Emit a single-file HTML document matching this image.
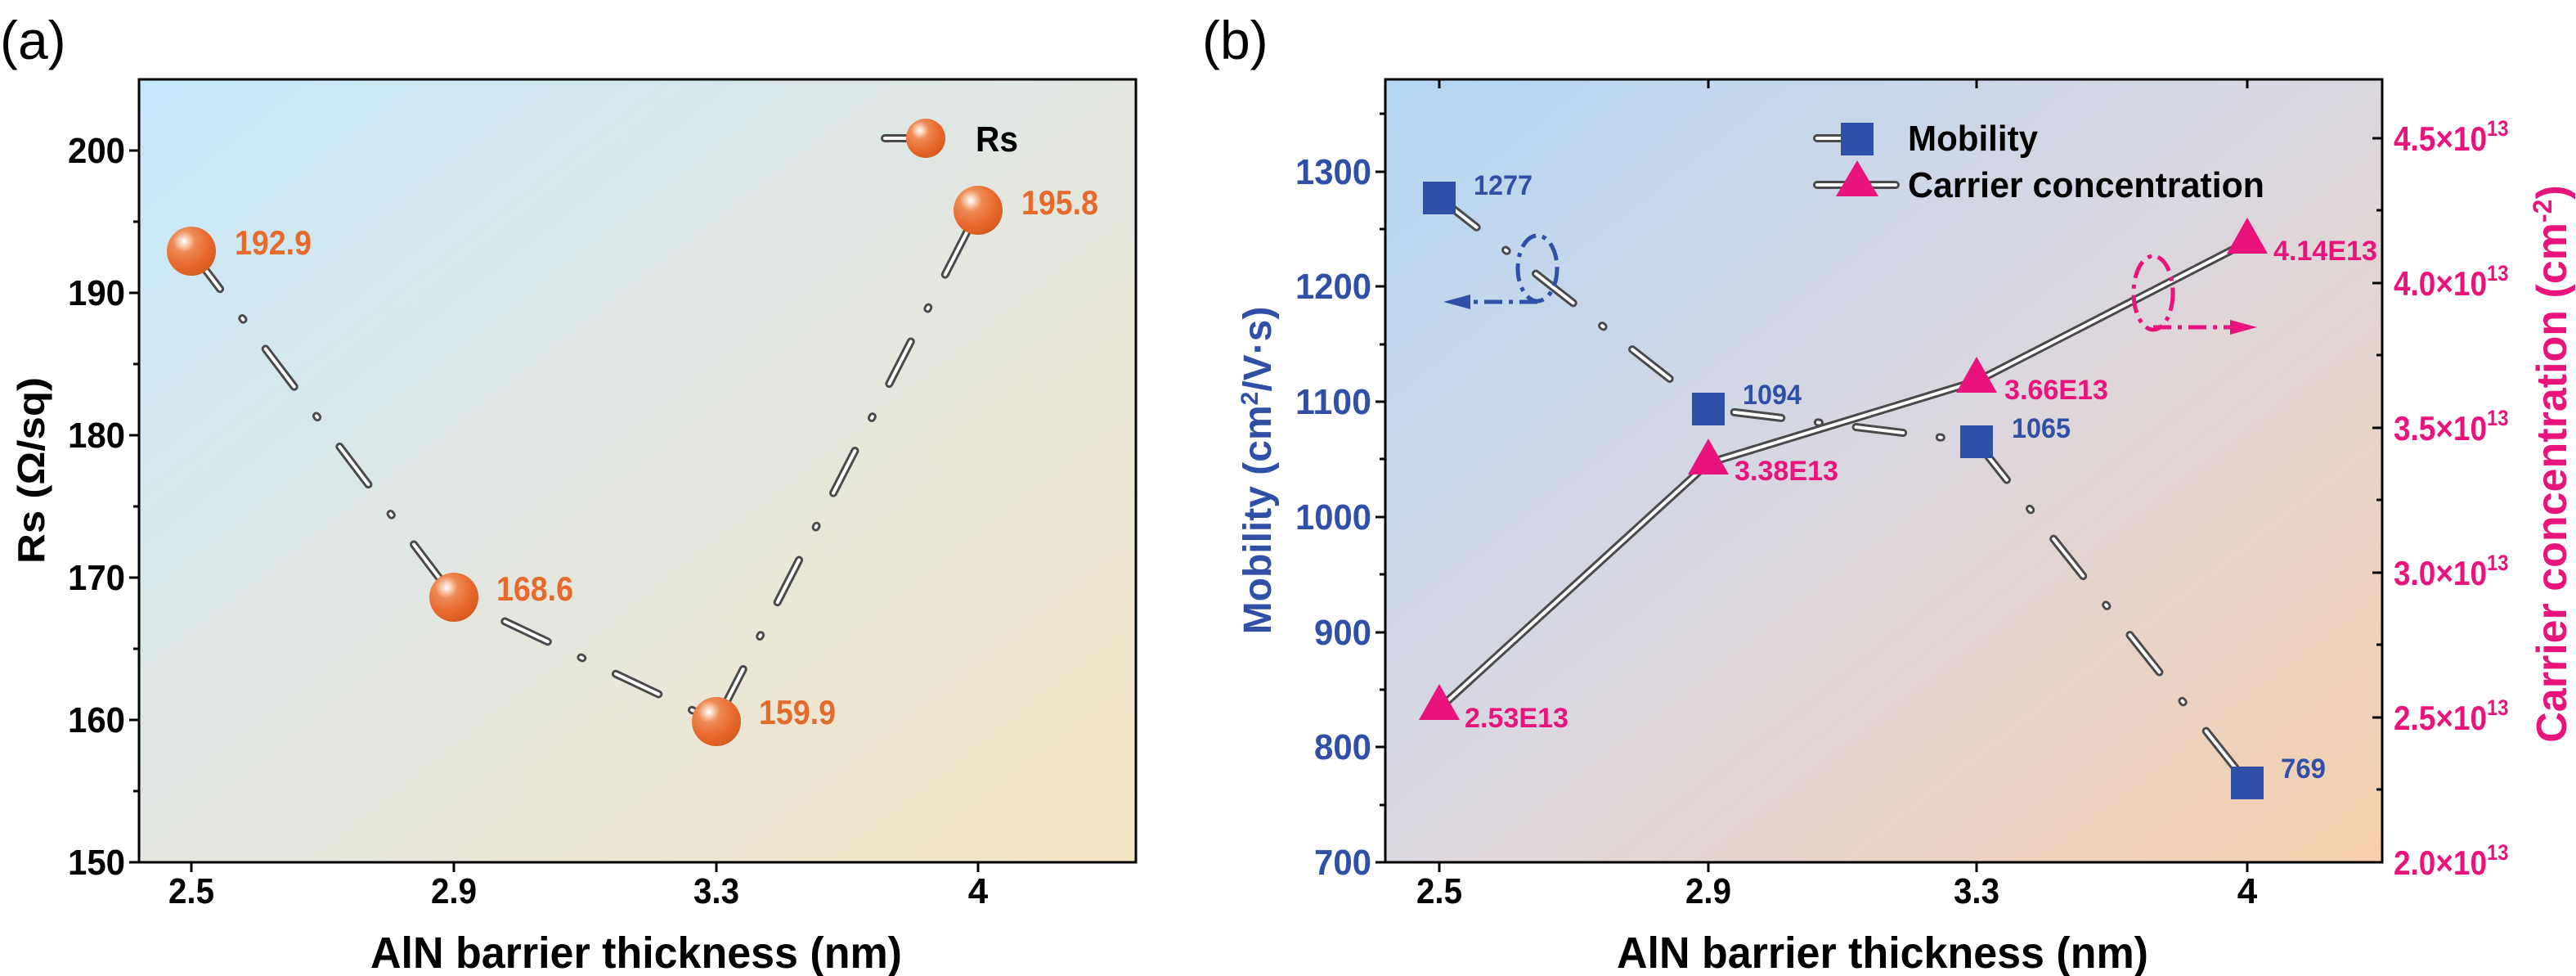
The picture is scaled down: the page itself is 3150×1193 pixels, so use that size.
<!DOCTYPE html>
<html><head><meta charset="utf-8"><style>
html,body{margin:0;padding:0;background:#fff;}
svg{display:block;}
.t{font-family:"Liberation Sans Narrow","Liberation Sans",sans-serif;font-weight:bold;}
.w{font-family:"Liberation Sans",sans-serif;font-weight:bold;}
</style></head><body>
<svg width="3150" height="1193" viewBox="0 0 3150 1193" xmlns="http://www.w3.org/2000/svg">
<defs>
<linearGradient id="ga" x1="0" y1="0" x2="1" y2="1">
<stop offset="0" stop-color="#c4e8fb"/><stop offset="0.5" stop-color="#e3e7e0"/><stop offset="1" stop-color="#f5e6c4"/>
</linearGradient>
<linearGradient id="gb" x1="0" y1="0" x2="1" y2="1">
<stop offset="0" stop-color="#b3d7f4"/><stop offset="0.5" stop-color="#dbd7df"/><stop offset="1" stop-color="#f6cfac"/>
</linearGradient>
<radialGradient id="sp" cx="0.35" cy="0.3" r="0.75">
<stop offset="0" stop-color="#ffffff"/><stop offset="0.12" stop-color="#fbd2b8"/><stop offset="0.3" stop-color="#ee8a55"/><stop offset="0.7" stop-color="#e6672b"/><stop offset="1" stop-color="#d65a20"/>
</radialGradient>
</defs>

<!-- Panel a -->
<text x="0" y="72" font-family="Liberation Sans, sans-serif" font-size="66">(a)</text>
<rect x="170" y="97" width="1219" height="957" fill="url(#ga)" stroke="#000" stroke-width="3"/>
<g stroke="#000" stroke-width="3">
<line x1="158" y1="1054" x2="170" y2="1054"/><line x1="158" y1="880" x2="170" y2="880"/><line x1="158" y1="706" x2="170" y2="706"/><line x1="158" y1="532" x2="170" y2="532"/><line x1="158" y1="358" x2="170" y2="358"/><line x1="158" y1="184" x2="170" y2="184"/>
<line x1="163" y1="967" x2="170" y2="967"/><line x1="163" y1="793" x2="170" y2="793"/><line x1="163" y1="619" x2="170" y2="619"/><line x1="163" y1="445" x2="170" y2="445"/><line x1="163" y1="271" x2="170" y2="271"/>
<line x1="234" y1="1054" x2="234" y2="1066"/><line x1="555" y1="1054" x2="555" y2="1066"/><line x1="876" y1="1054" x2="876" y2="1066"/><line x1="1196" y1="1054" x2="1196" y2="1066"/>
</g>
<g class="t" font-size="44" text-anchor="end">
<text x="153" y="1069" textLength="70" lengthAdjust="spacingAndGlyphs">150</text><text x="153" y="895" textLength="70" lengthAdjust="spacingAndGlyphs">160</text><text x="153" y="721" textLength="70" lengthAdjust="spacingAndGlyphs">170</text><text x="153" y="547" textLength="70" lengthAdjust="spacingAndGlyphs">180</text><text x="153" y="373" textLength="70" lengthAdjust="spacingAndGlyphs">190</text><text x="153" y="199" textLength="70" lengthAdjust="spacingAndGlyphs">200</text>
</g>
<g class="t" font-size="44" text-anchor="middle">
<text x="234" y="1104" textLength="56" lengthAdjust="spacingAndGlyphs">2.5</text><text x="555" y="1104" textLength="56" lengthAdjust="spacingAndGlyphs">2.9</text><text x="876" y="1104" textLength="56" lengthAdjust="spacingAndGlyphs">3.3</text><text x="1196" y="1104">4</text>
</g>
<text class="t" font-size="54" x="778" y="1183" text-anchor="middle" textLength="650" lengthAdjust="spacingAndGlyphs">AlN barrier thickness (nm)</text>
<text class="w" font-size="46" transform="translate(54,575) rotate(-90)" text-anchor="middle" textLength="228" lengthAdjust="spacingAndGlyphs">Rs (Ω/sq)</text>
<g fill="none" stroke-linecap="round" stroke-dasharray="58 45 2 45">
<polyline points="234,307 555,730 876,882 1196,257" stroke="#4a4a4a" stroke-width="10"/>
<polyline points="234,307 555,730 876,882 1196,257" stroke="#fff" stroke-width="4"/>
</g>
<g>
<circle cx="234" cy="307" r="30" fill="url(#sp)"/><circle cx="555" cy="730" r="30" fill="url(#sp)"/><circle cx="876" cy="882" r="30" fill="url(#sp)"/><circle cx="1196" cy="257" r="30" fill="url(#sp)"/>
<line x1="1082" y1="169" x2="1115" y2="169" stroke="#4a4a4a" stroke-width="10" stroke-linecap="round"/>
<line x1="1082" y1="169" x2="1115" y2="169" stroke="#fff" stroke-width="4" stroke-linecap="round"/>
<circle cx="1132" cy="169" r="24" fill="url(#sp)"/>
</g>
<text class="t" font-size="44" x="1193" y="185" textLength="52" lengthAdjust="spacingAndGlyphs">Rs</text>
<g class="t" font-size="42" fill="#e66a2c">
<text x="287" y="311" textLength="94" lengthAdjust="spacingAndGlyphs">192.9</text><text x="607" y="734" textLength="94" lengthAdjust="spacingAndGlyphs">168.6</text><text x="928" y="885" textLength="94" lengthAdjust="spacingAndGlyphs">159.9</text><text x="1249" y="262" textLength="94" lengthAdjust="spacingAndGlyphs">195.8</text>
</g>

<!-- Panel b -->
<text x="1470" y="72" font-family="Liberation Sans, sans-serif" font-size="66">(b)</text>
<rect x="1694" y="97" width="1219" height="957" fill="url(#gb)" stroke="#000" stroke-width="3"/>
<g stroke="#000" stroke-width="3">
<line x1="1682" y1="1054" x2="1694" y2="1054"/><line x1="1682" y1="913" x2="1694" y2="913"/><line x1="1682" y1="773" x2="1694" y2="773"/><line x1="1682" y1="632" x2="1694" y2="632"/><line x1="1682" y1="491" x2="1694" y2="491"/><line x1="1682" y1="350" x2="1694" y2="350"/><line x1="1682" y1="210" x2="1694" y2="210"/>
<line x1="1687" y1="984" x2="1694" y2="984"/><line x1="1687" y1="843" x2="1694" y2="843"/><line x1="1687" y1="702" x2="1694" y2="702"/><line x1="1687" y1="561" x2="1694" y2="561"/><line x1="1687" y1="421" x2="1694" y2="421"/><line x1="1687" y1="280" x2="1694" y2="280"/><line x1="1687" y1="139" x2="1694" y2="139"/>
<line x1="2901" y1="1054" x2="2913" y2="1054"/><line x1="2901" y1="877" x2="2913" y2="877"/><line x1="2901" y1="700" x2="2913" y2="700"/><line x1="2901" y1="523" x2="2913" y2="523"/><line x1="2901" y1="346" x2="2913" y2="346"/><line x1="2901" y1="169" x2="2913" y2="169"/>
<line x1="2906" y1="965" x2="2913" y2="965"/><line x1="2906" y1="788" x2="2913" y2="788"/><line x1="2906" y1="611" x2="2913" y2="611"/><line x1="2906" y1="434" x2="2913" y2="434"/><line x1="2906" y1="257" x2="2913" y2="257"/>
<line x1="1760" y1="1054" x2="1760" y2="1066"/><line x1="2089" y1="1054" x2="2089" y2="1066"/><line x1="2417" y1="1054" x2="2417" y2="1066"/><line x1="2748" y1="1054" x2="2748" y2="1066"/>
<line x1="1760" y1="97" x2="1760" y2="108"/><line x1="2089" y1="97" x2="2089" y2="108"/><line x1="2417" y1="97" x2="2417" y2="108"/><line x1="2748" y1="97" x2="2748" y2="108"/>
</g>
<g class="t" font-size="44" text-anchor="end" fill="#3050a8">
<text x="1677" y="1069" textLength="70" lengthAdjust="spacingAndGlyphs">700</text><text x="1677" y="928" textLength="70" lengthAdjust="spacingAndGlyphs">800</text><text x="1677" y="788" textLength="70" lengthAdjust="spacingAndGlyphs">900</text><text x="1677" y="647" textLength="93" lengthAdjust="spacingAndGlyphs">1000</text><text x="1677" y="506" textLength="93" lengthAdjust="spacingAndGlyphs">1100</text><text x="1677" y="365" textLength="93" lengthAdjust="spacingAndGlyphs">1200</text><text x="1677" y="225" textLength="93" lengthAdjust="spacingAndGlyphs">1300</text>
</g>
<g class="t" font-size="42" fill="#e8147c" transform="translate(2927,0) scale(0.88,1) translate(-2927,0)">
<text x="2927" y="1069">2.0×10<tspan font-size="27" dy="-18">13</tspan></text>
<text x="2927" y="892">2.5×10<tspan font-size="27" dy="-18">13</tspan></text>
<text x="2927" y="715">3.0×10<tspan font-size="27" dy="-18">13</tspan></text>
<text x="2927" y="538">3.5×10<tspan font-size="27" dy="-18">13</tspan></text>
<text x="2927" y="361">4.0×10<tspan font-size="27" dy="-18">13</tspan></text>
<text x="2927" y="184">4.5×10<tspan font-size="27" dy="-18">13</tspan></text>
</g>
<g class="t" font-size="44" text-anchor="middle">
<text x="1760" y="1104" textLength="56" lengthAdjust="spacingAndGlyphs">2.5</text><text x="2089" y="1104" textLength="56" lengthAdjust="spacingAndGlyphs">2.9</text><text x="2417" y="1104" textLength="56" lengthAdjust="spacingAndGlyphs">3.3</text><text x="2748" y="1104">4</text>
</g>
<text class="t" font-size="54" x="2302" y="1183" text-anchor="middle" textLength="650" lengthAdjust="spacingAndGlyphs">AlN barrier thickness (nm)</text>
<text class="w" font-size="48" fill="#3050a8" transform="translate(1554,575) rotate(-90)" text-anchor="middle">Mobility (cm<tspan font-size="30" dy="-16">2</tspan><tspan dy="16">/V·s)</tspan></text>
<text class="w" font-size="52" fill="#e8147c" transform="translate(3138,567) rotate(-90)" text-anchor="middle">Carrier concentration (cm<tspan font-size="32" dy="-18">-2</tspan><tspan dy="18">)</tspan></text>

<g fill="none" stroke-linecap="round">
<polyline points="1760,866 2089,566 2417,466 2748,296" stroke="#4a4a4a" stroke-width="10"/>
<polyline points="1760,866 2089,566 2417,466 2748,296" stroke="#fff" stroke-width="4"/>
</g>
<g fill="none" stroke-linecap="round" stroke-dasharray="58 45 2 45">
<polyline points="1760,242 2089,500 2417,540 2748,957" stroke="#4a4a4a" stroke-width="10"/>
<polyline points="1760,242 2089,500 2417,540 2748,957" stroke="#fff" stroke-width="4"/>
</g>
<g fill="#3050a8">
<rect x="1740" y="222" width="40" height="40"/><rect x="2069" y="480" width="40" height="40"/><rect x="2397" y="520" width="40" height="40"/><rect x="2728" y="937" width="40" height="40"/>
</g>
<g fill="#e8147c">
<polygon points="1760,836 1785,880 1735,880"/><polygon points="2089,536 2114,580 2064,580"/><polygon points="2417,436 2442,480 2392,480"/><polygon points="2748,266 2773,310 2723,310"/>
</g>
<g fill="none" stroke-linecap="round">
<line x1="2222" y1="169" x2="2255" y2="169" stroke="#4a4a4a" stroke-width="10"/><line x1="2222" y1="169" x2="2255" y2="169" stroke="#fff" stroke-width="4"/>
<line x1="2222" y1="226" x2="2318" y2="226" stroke="#4a4a4a" stroke-width="10"/><line x1="2222" y1="226" x2="2318" y2="226" stroke="#fff" stroke-width="4"/>
</g>
<rect x="2251" y="150" width="40" height="40" fill="#3050a8"/>
<polygon points="2271,196 2297,240 2245,240" fill="#e8147c"/>
<text class="t" font-size="44" x="2333" y="184" textLength="159" lengthAdjust="spacingAndGlyphs">Mobility</text>
<text class="t" font-size="44" x="2333" y="241" textLength="436" lengthAdjust="spacingAndGlyphs">Carrier concentration</text>
<g class="t" font-size="34" fill="#3050a8">
<text x="1802" y="238" textLength="72" lengthAdjust="spacingAndGlyphs">1277</text><text x="2131" y="494" textLength="72" lengthAdjust="spacingAndGlyphs">1094</text><text x="2460" y="535" textLength="72" lengthAdjust="spacingAndGlyphs">1065</text><text x="2789" y="951" textLength="55" lengthAdjust="spacingAndGlyphs">769</text>
</g>
<g class="t" font-size="34" fill="#e8147c">
<text x="1791" y="889" textLength="127" lengthAdjust="spacingAndGlyphs">2.53E13</text><text x="2121" y="587" textLength="127" lengthAdjust="spacingAndGlyphs">3.38E13</text><text x="2451" y="488" textLength="127" lengthAdjust="spacingAndGlyphs">3.66E13</text><text x="2780" y="318" textLength="127" lengthAdjust="spacingAndGlyphs">4.14E13</text>
</g>
<ellipse cx="1880" cy="328" rx="24" ry="40" fill="none" stroke="#3050a8" stroke-width="5" stroke-dasharray="22 8 5 8"/>
<line x1="1880" y1="369" x2="1795" y2="369" stroke="#3050a8" stroke-width="5" stroke-dasharray="22 8 5 8"/>
<polygon points="1765,369 1798,360 1798,378" fill="#3050a8"/>
<ellipse cx="2633" cy="358" rx="24" ry="45" fill="none" stroke="#e8147c" stroke-width="5" stroke-dasharray="22 8 5 8"/>
<line x1="2633" y1="400" x2="2728" y2="400" stroke="#e8147c" stroke-width="5" stroke-dasharray="22 8 5 8"/>
<polygon points="2760,400 2727,391 2727,409" fill="#e8147c"/>
</svg>
</body></html>
